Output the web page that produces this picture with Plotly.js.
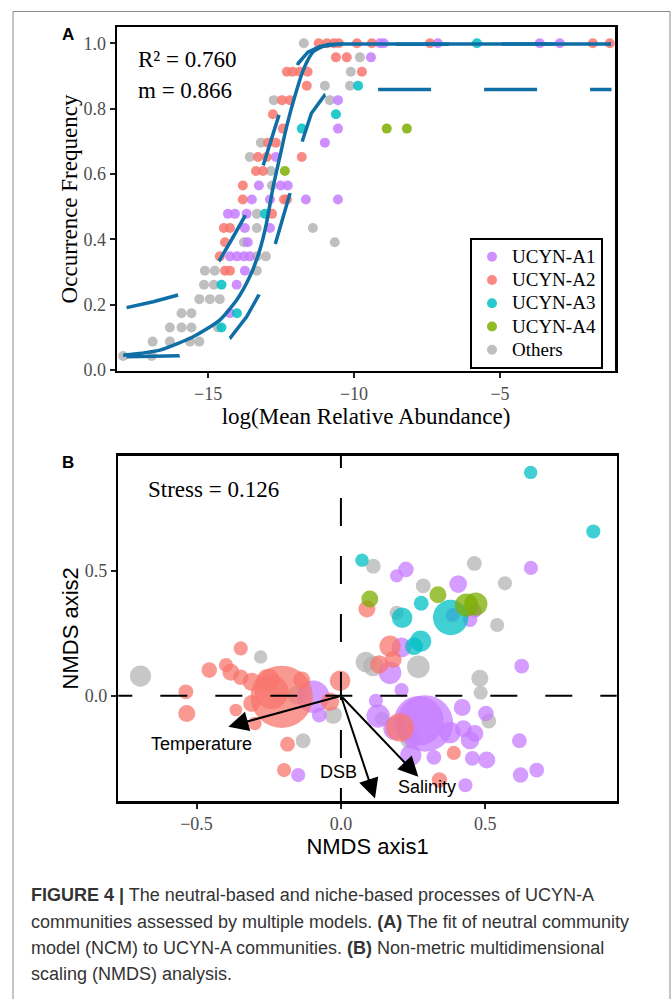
<!DOCTYPE html>
<html>
<head>
<meta charset="utf-8">
<script src="https://cdn.plot.ly/plotly-3.0.1.min.js"></script>
<style>
html,body{margin:0;padding:0;background:#ffffff;}
#chart{width:672px;height:999px;}
</style>
</head>
<body>
<div id="chart"></div>
<script>
// ---------------- Panel A : neutral community model ----------------
var groups = ['UCYN-A1', 'UCYN-A2', 'UCYN-A3', 'UCYN-A4', 'Others'];

var ncmA1X = [-14.25, -14.02, -13.74, -14.25, -14.01, -13.77, -13.57, -13.64, -13.74, -12.88, -14.32, -14.08, -13.68, -13.50, -12.88, -11.65, -10.55, -13.26, -12.51, -12.27, -12.68, -11.00, -10.55, -10.55, -9.42, -9.11, -8.98, -7.13, -3.64, -2.95];
var ncmA1Y = [0.174, 0.261, 0.304, 0.348, 0.348, 0.348, 0.348, 0.391, 0.435, 0.435, 0.478, 0.478, 0.478, 0.522, 0.522, 0.522, 0.522, 0.565, 0.565, 0.565, 0.652, 0.696, 0.739, 0.826, 0.957, 1.0, 1.0, 1.0, 1.0, 1.0];

var ncmA2X = [-14.42, -14.25, -14.60, -14.42, -14.46, -14.25, -12.81, -13.81, -12.40, -12.30, -13.81, -13.36, -13.12, -13.29, -12.99, -11.79, -12.95, -12.68, -12.44, -12.78, -12.47, -12.20, -11.62, -12.30, -12.10, -11.86, -11.59, -9.73, -10.62, -10.25, -11.21, -10.93, -10.69, -10.52, -9.90, -9.39, -7.40, -1.82, -1.24];
var ncmA2Y = [0.304, 0.304, 0.348, 0.391, 0.435, 0.435, 0.478, 0.522, 0.522, 0.522, 0.565, 0.609, 0.609, 0.652, 0.652, 0.652, 0.696, 0.696, 0.739, 0.783, 0.826, 0.826, 0.870, 0.913, 0.913, 0.913, 0.913, 0.913, 0.957, 0.957, 1.0, 1.0, 1.0, 1.0, 1.0, 1.0, 1.0, 1.0, 1.0];

var ncmA3X = [-14.54, -14.01, -14.54, -13.05, -11.79, -10.62, -9.86, -5.79];
var ncmA3Y = [0.130, 0.174, 0.261, 0.478, 0.739, 0.783, 0.870, 1.0];

var ncmA4X = [-12.37, -8.88, -8.19];
var ncmA4Y = [0.609, 0.739, 0.739];

var ncmOthersX = [-17.91, -16.93, -16.90, -16.31, -15.62, -15.30, -16.31, -15.91, -15.57, -14.66, -15.91, -15.57, -15.30, -14.94, -14.60, -15.14, -14.80, -15.11, -14.77, -13.33, -13.33, -13.02, -13.77, -10.66, -13.33, -11.41, -13.33, -12.81, -12.85, -13.57, -13.19, -12.75, -10.83, -11.00, -10.14, -10.11, -9.80, -11.72];
var ncmOthersY = [0.043, 0.043, 0.087, 0.087, 0.087, 0.087, 0.130, 0.130, 0.130, 0.130, 0.174, 0.174, 0.217, 0.217, 0.217, 0.261, 0.261, 0.304, 0.304, 0.304, 0.348, 0.348, 0.391, 0.391, 0.435, 0.435, 0.478, 0.565, 0.609, 0.652, 0.696, 0.826, 0.826, 0.870, 0.870, 0.913, 0.957, 1.0];

// fitted neutral model and its 95% confidence bounds
var fitX = [-17.91, -16.65, -15.51, -14.60, -14.02, -13.57, -13.23, -13.00, -12.77, -12.54, -12.31, -12.03, -11.74, -11.40, -10.94, -10.26, -1.20];
var fitY = [0.045, 0.061, 0.102, 0.153, 0.214, 0.286, 0.367, 0.449, 0.561, 0.653, 0.745, 0.837, 0.918, 0.974, 0.995, 0.998, 0.998];
var upperX = [-17.79, -16.88, -16.02, -14.62, -14.20, -13.74, -13.11, -12.57, -11.91, -11.58, -11.17, -10.50, -1.20];
var upperY = [0.191, 0.209, 0.230, 0.334, 0.398, 0.471, 0.627, 0.781, 0.939, 0.973, 0.990, 0.997, 0.998];
var lowerX = [-17.79, -16.88, -15.99, -14.25, -13.68, -13.26, -12.69, -12.20, -11.76, -11.46, -11.00, -9.17, -1.18];
var lowerY = [0.041, 0.043, 0.044, 0.097, 0.163, 0.230, 0.388, 0.539, 0.704, 0.786, 0.842, 0.859, 0.859];

var ncmR2 = '0.760';
var ncmM = '0.866';

// ---------------- Panel B : NMDS ----------------
var nmdsA1X = [-0.096, -0.075, -0.148, 0.225, 0.193, 0.658, 0.406, 0.464, 0.447, 0.387, 0.210, 0.170, 0.626, 0.210, 0.121, 0.129, 0.420, 0.502, 0.291, 0.270, 0.187, 0.378, 0.424, 0.464, 0.447, 0.618, 0.242, 0.322, 0.455, 0.505, 0.622, 0.678, 0.431];
var nmdsA1Y = [-0.004, -0.077, -0.318, 0.507, 0.481, 0.513, 0.448, 0.341, 0.306, 0.324, 0.194, 0.092, 0.119, 0.023, -0.020, -0.081, -0.047, -0.071, -0.111, -0.100, -0.131, -0.148, -0.132, -0.151, -0.178, -0.180, -0.238, -0.247, -0.251, -0.258, -0.318, -0.298, -0.359];
var nmdsA1Abund = [5.29, 1.10, 1.00, 1.21, 0.90, 1.00, 1.56, 1.00, 1.10, 1.00, 1.96, 2.56, 1.10, 1.00, 1.00, 2.72, 1.44, 1.21, 16.0, 12.25, 2.72, 2.25, 1.44, 1.44, 1.69, 1.10, 2.25, 1.10, 1.10, 1.44, 1.21, 1.10, 1.00];

var nmdsA2X = [-0.347, -0.456, -0.398, -0.381, -0.347, -0.309, -0.252, -0.205, -0.240, -0.136, -0.537, -0.534, -0.364, -0.309, -0.298, -0.038, -0.003, -0.185, -0.197, 0.090, 0.170, 0.133, 0.181, 0.204, 0.391, 0.341];
var nmdsA2Y = [0.190, 0.103, 0.123, 0.094, 0.074, 0.056, 0.063, -0.004, 0.015, 0.063, 0.016, -0.071, -0.057, -0.031, -0.111, -0.024, 0.060, -0.194, -0.298, 0.348, 0.199, 0.126, 0.146, -0.127, -0.229, -0.338];
var nmdsA2Abund = [1.00, 1.21, 1.00, 1.44, 1.21, 1.69, 2.56, 19.36, 5.76, 1.44, 1.10, 1.44, 0.81, 1.44, 0.90, 1.69, 2.10, 1.10, 1.00, 1.44, 2.25, 1.69, 1.44, 4.00, 1.00, 1.21];

var nmdsA3X = [0.657, 0.874, 0.073, 0.278, 0.380, 0.212, 0.253, 0.276];
var nmdsA3Y = [0.896, 0.659, 0.544, 0.371, 0.314, 0.313, 0.199, 0.219];
var nmdsA3Abund = [0.90, 1.00, 0.90, 1.10, 6.25, 2.10, 1.56, 2.25];

var nmdsA4X = [0.336, 0.100, 0.435, 0.467];
var nmdsA4Y = [0.405, 0.388, 0.364, 0.368];
var nmdsA4Abund = [1.44, 1.44, 2.72, 2.72];

var nmdsOthersX = [-0.694, -0.278, -0.153, -0.027, -0.131, 0.112, 0.462, 0.285, 0.568, 0.193, 0.541, 0.086, 0.112, 0.268, 0.481, 0.484, 0.141, 0.512, 0.239];
var nmdsOthersY = [0.079, 0.156, 0.003, -0.077, -0.180, 0.520, 0.531, 0.441, 0.451, 0.333, 0.284, 0.136, 0.119, 0.116, 0.070, 0.012, -0.091, -0.101, -0.171];
var nmdsOthersAbund = [2.25, 0.90, 1.69, 1.56, 1.10, 1.10, 1.10, 1.10, 1.00, 1.00, 1.00, 2.10, 2.10, 2.56, 1.44, 1.00, 1.00, 1.10, 2.10];

var envNames = ['Temperature', 'DSB', 'Salinity'];
var envX = [-0.390, 0.118, 0.268];
var envY = [-0.124, -0.412, -0.325];

var nmdsStress = '0.126';

var captionLines = [
  '<b>FIGURE 4 |</b> The neutral-based and niche-based processes of UCYN-A',
  'communities assessed by multiple models. <b>(A)</b> The fit of neutral community',
  'model (NCM) to UCYN-A communities. <b>(B)</b> Non-metric multidimensional',
  'scaling (NMDS) analysis.'
];

// ---------------- styling ----------------
var SERIF = 'Liberation Serif, Times New Roman, serif';
var SANS = 'Liberation Sans, Arial, sans-serif';
var groupColors = {'UCYN-A1': '#C77CFF', 'UCYN-A2': '#F8766D', 'UCYN-A3': '#00BFC4', 'UCYN-A4': '#7CAE00', 'Others': '#b4b4b4'};
var curveColor = '#0f6ea6';

var ncmData = {
  'UCYN-A1': [ncmA1X, ncmA1Y],
  'UCYN-A2': [ncmA2X, ncmA2Y],
  'UCYN-A3': [ncmA3X, ncmA3Y],
  'UCYN-A4': [ncmA4X, ncmA4Y],
  'Others': [ncmOthersX, ncmOthersY]
};
var nmdsData = {
  'UCYN-A1': [nmdsA1X, nmdsA1Y, nmdsA1Abund],
  'UCYN-A2': [nmdsA2X, nmdsA2Y, nmdsA2Abund],
  'UCYN-A3': [nmdsA3X, nmdsA3Y, nmdsA3Abund],
  'UCYN-A4': [nmdsA4X, nmdsA4Y, nmdsA4Abund],
  'Others': [nmdsOthersX, nmdsOthersY, nmdsOthersAbund]
};
var drawOrder = ['Others', 'UCYN-A1', 'UCYN-A2', 'UCYN-A3', 'UCYN-A4'];

var traces = [];
drawOrder.forEach(function (g) {
  traces.push({
    type: 'scatter', mode: 'markers',
    name: '<span style="font-size:19px">' + g + '</span>',
    x: ncmData[g][0], y: ncmData[g][1], xaxis: 'x', yaxis: 'y',
    legendrank: groups.indexOf(g) + 1,
    marker: {color: groupColors[g], size: 10, opacity: 0.85, line: {width: 0}},
    hoverinfo: 'x+y'
  });
});
traces.push({type: 'scatter', mode: 'lines', x: fitX, y: fitY, xaxis: 'x', yaxis: 'y', showlegend: false,
  line: {color: curveColor, width: 3.5, shape: 'spline', smoothing: 0.6}, hoverinfo: 'skip'});
traces.push({type: 'scatter', mode: 'lines', x: upperX, y: upperY, xaxis: 'x', yaxis: 'y', showlegend: false,
  line: {color: curveColor, width: 3.5, dash: '53px,53px'}, hoverinfo: 'skip'});
traces.push({type: 'scatter', mode: 'lines', x: lowerX, y: lowerY, xaxis: 'x', yaxis: 'y', showlegend: false,
  line: {color: curveColor, width: 3.5, dash: '53px,53px'}, hoverinfo: 'skip'});

drawOrder.forEach(function (g) {
  traces.push({
    type: 'scatter', mode: 'markers', name: g, showlegend: false,
    x: nmdsData[g][0], y: nmdsData[g][1], xaxis: 'x2', yaxis: 'y2',
    marker: {color: groupColors[g], size: nmdsData[g][2], sizemode: 'area', sizeref: 0.01, opacity: 0.75, line: {width: 0}},
    hoverinfo: 'x+y+name'
  });
});

var W = 672, H = 999;
function px(v) { return v / W; }
function py(v) { return 1 - v / H; }

var axisBase = {
  showline: true, mirror: true, linecolor: '#000', linewidth: 2.5,
  ticks: 'outside', ticklen: 5, tickwidth: 2, tickcolor: '#222',
  showgrid: false, zeroline: false, fixedrange: true,
  tickfont: {family: SERIF, size: 18, color: '#4d4d4d'}
};
function ax(o) { return Object.assign({}, axisBase, o); }

var annotations = [
  {xref: 'paper', yref: 'paper', x: px(60), y: py(35), xanchor: 'left', yanchor: 'middle', showarrow: false,
   text: '<b>A</b>', font: {family: SANS, size: 17, color: '#000'}},
  {xref: 'paper', yref: 'paper', x: px(60), y: py(462), xanchor: 'left', yanchor: 'middle', showarrow: false,
   text: '<b>B</b>', font: {family: SANS, size: 17, color: '#000'}},
  {xref: 'x', yref: 'y', x: -17.47, y: 0.949, xanchor: 'left', yanchor: 'middle', showarrow: false,
   text: 'R² = ' + ncmR2, font: {family: SERIF, size: 23, color: '#000'}},
  {xref: 'x', yref: 'y', x: -17.47, y: 0.857, xanchor: 'left', yanchor: 'middle', showarrow: false,
   text: 'm = ' + ncmM, font: {family: SERIF, size: 23, color: '#000'}},
  {xref: 'x2', yref: 'y2', x: -0.676, y: 0.828, xanchor: 'left', yanchor: 'middle', showarrow: false,
   text: 'Stress = ' + nmdsStress, font: {family: SERIF, size: 23, color: '#000'}}
];
var labelPos = [[-0.482, -0.194], [-0.007, -0.306], [0.297, -0.367]];
envNames.forEach(function (n, i) {
  annotations.push({xref: 'x2', yref: 'y2', axref: 'x2', ayref: 'y2', x: envX[i], y: envY[i], ax: 0, ay: 0,
    text: '', showarrow: true, arrowhead: 2, arrowsize: 2, arrowwidth: 2, arrowcolor: '#000', standoff: 0, startstandoff: 0});
  annotations.push({xref: 'x2', yref: 'y2', x: labelPos[i][0], y: labelPos[i][1], xanchor: 'center', yanchor: 'middle',
    showarrow: false, text: n, font: {family: SANS, size: 18, color: '#000'}});
});
var capY = [895, 922, 948, 974];
captionLines.forEach(function (t, i) {
  annotations.push({xref: 'paper', yref: 'paper', x: px(29), y: py(capY[i]), xanchor: 'left', yanchor: 'middle',
    showarrow: false, text: t, font: {family: SANS, size: 18, color: '#333'}});
});

var layout = {
  width: W, height: H,
  margin: {l: 0, r: 0, t: 0, b: 0},
  paper_bgcolor: '#fff', plot_bgcolor: '#fff',
  showlegend: true,
  legend: {x: px(470), y: py(238), xanchor: 'left', yanchor: 'top', bgcolor: '#fff',
    bordercolor: '#000', borderwidth: 2, font: {family: SERIF, size: 15.6, color: '#000'},
    itemsizing: 'trace', tracegroupgap: 0},
  xaxis: ax({domain: [px(117), px(615)], range: [-18.12, -1.06], anchor: 'y',
    tickvals: [-15, -10, -5],
    title: {text: 'log(Mean Relative Abundance)', font: {family: SERIF, size: 23, color: '#000'}, standoff: 0}}),
  yaxis: ax({domain: [py(370.7), py(27.3)], range: [-0.002, 1.049], anchor: 'x',
    tickvals: [0, 0.2, 0.4, 0.6, 0.8, 1.0], tickformat: '.1f',
    title: {text: 'Occurrence Frequency', font: {family: SERIF, size: 23, color: '#000'}, standoff: 0}}),
  xaxis2: ax({domain: [px(118.3), px(616.7)], range: [-0.771, 0.955], anchor: 'y2',
    tickvals: [-0.5, 0, 0.5], tickformat: '.1f',
    title: {text: 'NMDS axis1', font: {family: SANS, size: 22, color: '#000'}, standoff: 1}}),
  yaxis2: ax({domain: [py(801), py(455.7)], range: [-0.422, 0.963], anchor: 'x2',
    tickvals: [0, 0.5], tickformat: '.1f',
    title: {text: 'NMDS axis2', font: {family: SANS, size: 22, color: '#000'}, standoff: 0}}),
  shapes: [
    {type: 'rect', xref: 'paper', yref: 'paper', x0: px(13), x1: px(670), y0: -0.05, y1: py(11.5),
     line: {color: '#8a8a8a', width: 1}, fillcolor: 'rgba(0,0,0,0)', layer: 'below'},
    {type: 'line', xref: 'x2', yref: 'y2', x0: -0.816, x1: 1.0, y0: 0, y1: 0,
     line: {color: '#000', width: 2, dash: '27px,28px'}},
    {type: 'line', xref: 'x2', yref: 'y2', x0: 0, x1: 0, y0: 1.026, y1: -0.6,
     line: {color: '#000', width: 2, dash: '28px,30px'}}
  ],
  annotations: annotations
};

Plotly.newPlot('chart', traces, layout, {displayModeBar: false, staticPlot: true});
</script>
</body>
</html>
